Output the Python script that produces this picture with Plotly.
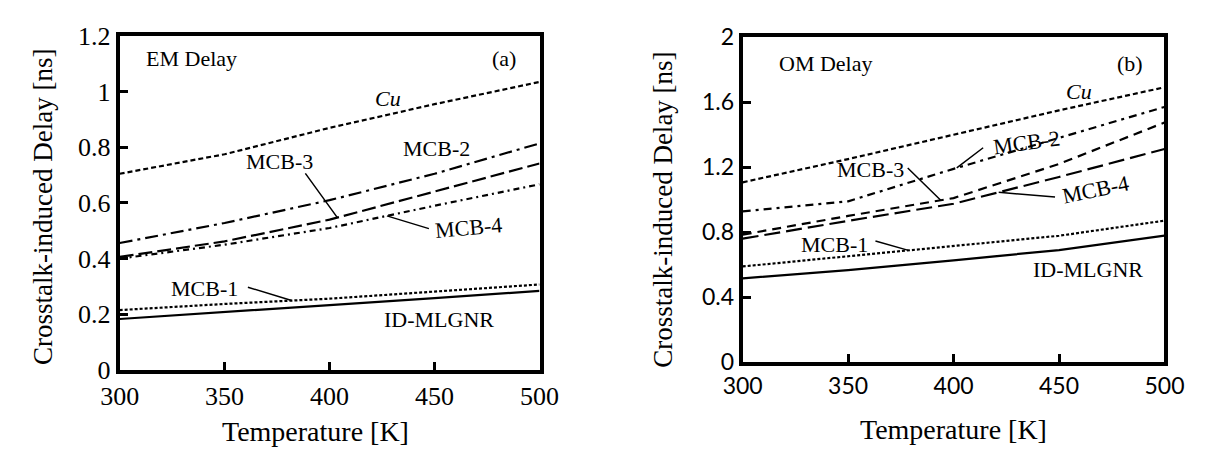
import numpy as np
import plotly.graph_objects as go

W, H = 1229, 461

# ---------------- data ----------------
temps = [300, 350, 400, 450, 500]

# (a) EM delay [ns]
a_cu = [0.705, 0.775, 0.870, 0.955, 1.035]
a_mcb2 = [0.456, 0.528, 0.610, 0.705, 0.814]
a_mcb3 = [0.406, 0.462, 0.540, 0.640, 0.742]
a_mcb4 = [0.400, 0.450, 0.510, 0.590, 0.667]
a_mcb1 = [0.215, 0.237, 0.256, 0.282, 0.307]
a_id = [0.183, 0.207, 0.233, 0.258, 0.284]

# (b) OM delay [ns]
b_cu = [1.107, 1.250, 1.400, 1.550, 1.692]
b_mcb2 = [0.928, 0.990, 1.190, 1.380, 1.571]
b_mcb3 = [0.785, 0.900, 1.010, 1.220, 1.475]
b_mcb4 = [0.760, 0.870, 0.975, 1.140, 1.312]
b_mcb1 = [0.589, 0.652, 0.715, 0.778, 0.871]
b_id = [0.516, 0.566, 0.627, 0.690, 0.779]

x_ticks = [300, 350, 400, 450, 500]
a_yticks = [0, 0.2, 0.4, 0.6, 0.8, 1.0, 1.2]
b_yticks = [0, 0.4, 0.8, 1.2, 1.6, 2.0]

x_title = "Temperature [K]"
y_title = "Crosstalk-induced Delay [ns]"

SERIF = "Liberation Serif"
SANS = "Lato"

# ---------------- layout geometry (pixels) ----------------
A_L, A_R, A_T, A_B = 103, 537, 22.5, 379.6
B_L, B_R, B_T, B_B = 747, 1183, 23.8, 371.3


def px(x):
    return x / W


def py(y):
    return 1 - y / H


fig = go.Figure()

a_series = [
    (a_cu, "5px,3px"),
    (a_mcb2, "13px,5px,3px,5px"),
    (a_mcb3, "14px,5px"),
    (a_mcb4, "6px,4px,2px,4px"),
    (a_mcb1, "3px,2px"),
    (a_id, "solid"),
]
b_series = [
    (b_cu, "5px,3px"),
    (b_mcb2, "8px,5px,3px,5px"),
    (b_mcb3, "9px,6px"),
    (b_mcb4, "16px,6px"),
    (b_mcb1, "3px,2px"),
    (b_id, "solid"),
]

for vals, dash in a_series:
    fig.add_trace(go.Scatter(x=temps, y=vals, mode="lines", xaxis="x", yaxis="y",
                             line=dict(color="black", width=2.2, dash=dash)))
for vals, dash in b_series:
    fig.add_trace(go.Scatter(x=temps, y=vals, mode="lines", xaxis="x2", yaxis="y2",
                             line=dict(color="black", width=2.2, dash=dash)))

axis_common = dict(showline=True, linecolor="black", linewidth=4, mirror=True,
                   ticks="inside", tickcolor="black", tickwidth=3, ticklen=8,
                   showgrid=False, zeroline=False)

fig.update_layout(
    width=W, height=H, showlegend=False,
    margin=dict(l=0, r=0, t=0, b=0),
    paper_bgcolor="white", plot_bgcolor="white",
    xaxis=dict(domain=[px(A_L), px(A_R)], range=[300, 500], tickvals=x_ticks,
               tickfont=dict(family=SERIF, size=26, color="black"),
               anchor="y", **axis_common),
    yaxis=dict(domain=[py(A_B), py(A_T)], range=[0, 1.2], tickvals=a_yticks,
               tickfont=dict(family=SERIF, size=26, color="black"),
               anchor="x", **axis_common),
    xaxis2=dict(domain=[px(B_L), px(B_R)], range=[300, 500], tickvals=x_ticks,
                tickfont=dict(family=SANS, size=23, color="black"),
                anchor="y2", **axis_common),
    yaxis2=dict(domain=[py(B_B), py(B_T)], range=[0, 2.0], tickvals=b_yticks,
                tickfont=dict(family=SANS, size=23, color="black"),
                anchor="x2", **axis_common),
)

ann = []


def text_px(x, y, t, size=22, angle=0, xanchor="center", font=SERIF):
    ann.append(dict(x=px(x), y=py(y), xref="paper", yref="paper", text=t,
                    showarrow=False, xanchor=xanchor, yanchor="middle",
                    textangle=angle,
                    font=dict(family=font, size=size, color="black")))


def leader(xa, ya, T, series, start_px, tip_px):
    v = float(np.interp(T, temps, series))
    ann.append(dict(x=T, y=v, xref=xa, yref=ya, text=" ", showarrow=True,
                    arrowhead=0, arrowwidth=1.5, arrowcolor="black",
                    font=dict(size=2),
                    ax=start_px[0] - tip_px[0], ay=start_px[1] - tip_px[1]))


# axis titles
text_px(23, 205, y_title, size=27, angle=-90)
text_px(305, 446, x_title, size=28)
text_px(665, 208, y_title, size=27, angle=-90)
text_px(965, 443, x_title, size=28)

# panel (a) labels
text_px(128.6, 47, "EM Delay", xanchor="left")
text_px(500, 47, "(a)")
text_px(380, 89, "<i>Cu</i>")
text_px(430, 143, "MCB-2")
text_px(268, 157, "MCB-3")
text_px(463.5, 227, "MCB-4", angle=-5)
text_px(190.8, 292.5, "MCB-1")
text_px(433, 326, "ID-MLGNR")
leader("x", "y", 403.7, a_mcb3, (294, 168), (328, 215))
leader("x", "y", 427.3, a_mcb4, (423.3, 231.7), (379.3, 218.3))
leader("x", "y", 381.9, a_mcb1, (235, 289.3), (280.7, 303.3))

# panel (b) labels
text_px(782, 51.7, "OM Delay", xanchor="left")
text_px(1147, 52, "(b)")
text_px(1095, 81.5, "<i>Cu</i>")
text_px(1040, 136, "MCB-2", angle=-8)
text_px(879, 165, "MCB-3")
text_px(1112, 187, "MCB-4", angle=-12)
text_px(841.7, 245.8, "MCB-1")
text_px(1104, 271.7, "ID-MLGNR")
leader("x2", "y2", 401.5, b_mcb2, (996.7, 140), (968.3, 161.7))
leader("x2", "y2", 393.9, b_mcb3, (916.7, 165), (951.7, 199.3))
leader("x2", "y2", 421.4, b_mcb4, (1070, 196.7), (1011.7, 191.7))
leader("x2", "y2", 378.6, b_mcb1, (883.3, 241.7), (918.3, 251.7))

fig.update_layout(annotations=ann)

fig.write_html("out.html")
